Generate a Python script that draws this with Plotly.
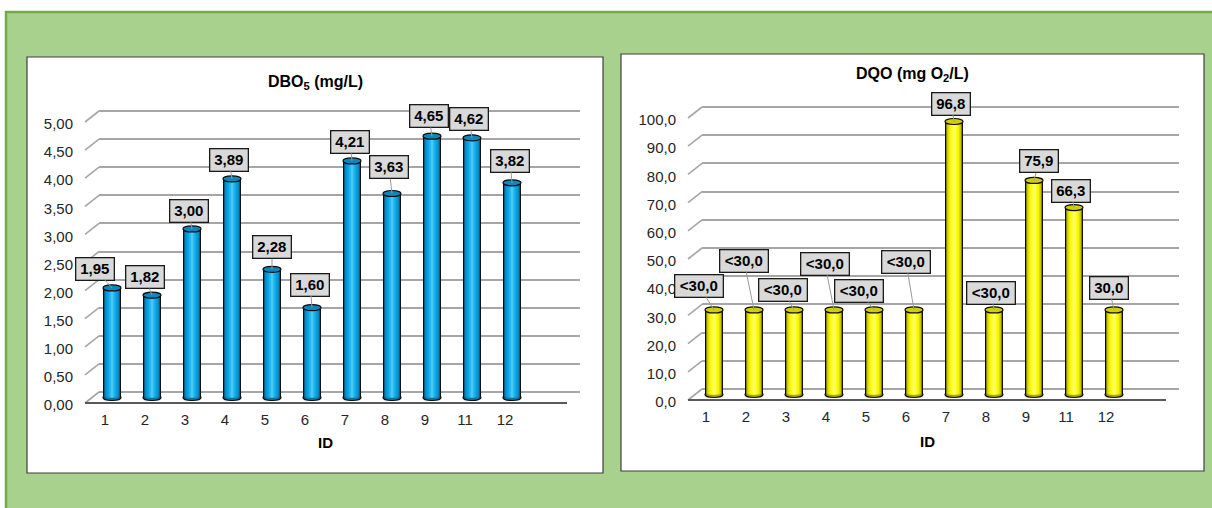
import plotly.graph_objects as go

W, H = 1212, 508

IDS = ["1", "2", "3", "4", "5", "6", "7", "8", "9", "11", "12"]

DBO5 = [1.95, 1.82, 3.00, 3.89, 2.28, 1.60, 4.21, 3.63, 4.65, 4.62, 3.82]
DBO5_TEXT = ["1,95", "1,82", "3,00", "3,89", "2,28", "1,60", "4,21", "3,63", "4,65", "4,62", "3,82"]
DBO5_TICKS = [0.0, 0.5, 1.0, 1.5, 2.0, 2.5, 3.0, 3.5, 4.0, 4.5, 5.0]

DQO = [30.0, 30.0, 30.0, 30.0, 30.0, 30.0, 96.8, 30.0, 75.9, 66.3, 30.0]
DQO_TEXT = ["<30,0", "<30,0", "<30,0", "<30,0", "<30,0", "<30,0", "96,8", "<30,0", "75,9", "66,3", "30,0"]
DQO_TICKS = [0, 10, 20, 30, 40, 50, 60, 70, 80, 90, 100]

# value boxes: pixel offset of each box centre from the top of its cylinder
DBO5_BOX_SHIFT = [(-17, -19), (-7, -18), (-3, -18), (-3, -19), (0, -22), (-2, -23),
                  (-2, -19), (-3, -26), (-3, -20), (-3, -19), (-2, -22)]
DQO_BOX_SHIFT = [(-15, -24), (-10, -49), (-11, -20), (-9, -46), (-15, -19), (-8, -48),
                 (-3, -18), (-3, -17), (5, -19), (-3, -17), (-5, -22)]

FONT = "Liberation Sans, Arial, sans-serif"
GRID = "#A6A6A6"
DEPTH_X, DEPTH_Y = 14, 11          # front-to-back offset of the 3-D floor (px)
BAR_W = 0.45                        # cylinder width, share of a category slot

# shading bands of the cylinders, outermost first
BLUE_BANDS = [(0.45, "#0D0D0D"), (0.39, "#0B74A8"), (0.34, "#0A8CC8"),
              (0.27, "#05A2E0"), (0.17, "#1AB2EE"), (0.07, "#4CC6F4")]
YELLOW_BANDS = [(0.45, "#0D0D0D"), (0.39, "#A6A600"), (0.34, "#D2D200"),
                (0.27, "#F0F000"), (0.17, "#FFFF10"), (0.07, "#FFFF70")]


def fx(px):
    return px / W


def fy(px):
    return 1 - px / H


PANELS = [
    dict(values=DBO5, text=DBO5_TEXT, ticks=DBO5_TICKS, shift=DBO5_BOX_SHIFT, fmt=".2f",
         title="DBO<sub>5</sub> (mg/L)", title_pos=(315, 83), id_pos=(325, 442),
         box=(27, 57, 603, 473), wall=(99, 580), wall_y=(111, 392), band=(92, 532),
         front_end=567, label_shift=-7, bands=BLUE_BANDS,
         cap="#0E86BE", base="#0B74A8"),
    dict(values=DQO, text=DQO_TEXT, ticks=DQO_TICKS, shift=DQO_BOX_SHIFT, fmt=".1f",
         title="DQO (mg O<sub>2</sub>/L)", title_pos=(912, 75), id_pos=(927, 441),
         box=(621, 54, 1204, 471), wall=(702, 1179), wall_y=(107, 389), band=(694, 1134),
         front_end=1166, label_shift=-8, bands=YELLOW_BANDS,
         cap="#D0D000", base="#A6A600"),
]

fig = go.Figure()
shapes = []
annotations = []
layout_axes = {}

# green backdrop
shapes.append(dict(type="rect", xref="paper", yref="paper", layer="below",
                   x0=fx(6), y0=fy(12), x1=fx(1230), y1=fy(530),
                   fillcolor="#A9D18E", line=dict(color="#70AD47", width=2.5)))

for k, p in enumerate(PANELS):
    bx, by = 2 * k + 1, 2 * k + 2
    xb = "x" if bx == 1 else f"x{bx}"
    yb = "y" if bx == 1 else f"y{bx}"
    xm, ym = f"x{by}", f"y{by}"

    vmax = p["ticks"][-1]
    top, bottom = p["wall_y"]
    s = (bottom - top) / vmax
    pad_top, pad_bot = 4, 16
    mid_pad = 6
    mid = DEPTH_Y / 2

    # chart area
    x0, y0, x1, y1 = p["box"]
    shapes.append(dict(type="rect", xref="paper", yref="paper", layer="below",
                       x0=fx(x0), y0=fy(y0), x1=fx(x1), y1=fy(y1),
                       fillcolor="white", line=dict(color="#3F3F3F", width=1.2)))

    # back wall: gridlines and value labels
    layout_axes["xaxis" if bx == 1 else f"xaxis{bx}"] = dict(
        domain=[fx(p["wall"][0]), fx(p["wall"][1])], range=[0, 1], anchor=yb,
        showticklabels=False, showgrid=False, zeroline=False, showline=False, ticks="",
        automargin=False)
    layout_axes["yaxis" if bx == 1 else f"yaxis{bx}"] = dict(
        domain=[fy(bottom + pad_bot), fy(top - pad_top)],
        range=[-pad_bot / s, vmax + pad_top / s], anchor=xb,
        tickmode="array", tickvals=p["ticks"], tickformat=p["fmt"],
        showgrid=True, gridcolor=GRID, gridwidth=1.6, zeroline=False, showline=False,
        ticks="", ticklabelshift=13, ticklabelstandoff=25, automargin=False,
        tickfont=dict(family=FONT, size=15, color="#262626"))

    # mid-depth plane carrying the cylinders
    layout_axes[f"xaxis{by}"] = dict(
        domain=[fx(p["band"][0]), fx(p["band"][1])], type="category",
        categoryorder="array", categoryarray=IDS, range=[-0.5, len(IDS) - 0.5],
        anchor=ym, showgrid=False, zeroline=False, showline=False, ticks="",
        ticklabelshift=p["label_shift"], ticklabelstandoff=5, automargin=False,
        tickfont=dict(family=FONT, size=15, color="#262626"))
    layout_axes[f"yaxis{by}"] = dict(
        domain=[fy(bottom + mid + mid_pad), fy(top + mid - mid_pad)],
        range=[-mid_pad / s, vmax + mid_pad / s], anchor=xm, visible=False,
        automargin=False)

    # receding edges from the front labels to the back wall
    for t in p["ticks"]:
        shapes.append(dict(type="line", xref=f"{xb} domain", yref=yb, layer="below",
                           xsizemode="pixel", xanchor=0, x0=-DEPTH_X, x1=0,
                           ysizemode="pixel", yanchor=t, y0=-DEPTH_Y, y1=0,
                           line=dict(color=GRID, width=1.6)))
    # front edge of the floor
    shapes.append(dict(type="line", xref="paper", yref="paper", layer="below",
                       x0=fx(p["wall"][0] - DEPTH_X), x1=fx(p["front_end"]),
                       y0=fy(bottom + DEPTH_Y), y1=fy(bottom + DEPTH_Y),
                       line=dict(color="#595959", width=2)))

    # cylinders
    for w, c in p["bands"]:
        fig.add_trace(go.Bar(x=IDS, y=p["values"], xaxis=xm, yaxis=ym, width=w,
                             marker=dict(color=c, line=dict(width=0)),
                             hoverinfo="skip", showlegend=False))
    hw = BAR_W / 2
    for i, v in enumerate(p["values"]):
        shapes.append(dict(type="circle", xref=xm, yref=ym, layer="below",
                           x0=i - hw, x1=i + hw, ysizemode="pixel", yanchor=0,
                           y0=-3, y1=3, fillcolor=p["base"],
                           line=dict(color="#0D0D0D", width=1.2)))
        shapes.append(dict(type="circle", xref=xm, yref=ym, layer="above",
                           x0=i - hw, x1=i + hw, ysizemode="pixel", yanchor=v,
                           y0=-3, y1=3, fillcolor=p["cap"],
                           line=dict(color="#0D0D0D", width=1.2)))

    # value boxes (x given as category position)
    for i, (v, txt) in enumerate(zip(p["values"], p["text"])):
        dx, dy = p["shift"][i]
        annotations.append(dict(
            xref=xm, yref=ym, x=i, y=v, ax=dx, ay=dy, text=txt,
            showarrow=True, arrowhead=0, arrowwidth=1, arrowcolor="#9A9A9A",
            bgcolor="#D9D9D9", bordercolor="#1A1A1A", borderwidth=1.3, borderpad=2,
            width=43 if txt.startswith("<") else 33, height=17,
            font=dict(family=FONT, size=15, color="black", weight="bold")))

    # titles
    annotations.append(dict(xref="paper", yref="paper", x=fx(p["title_pos"][0]),
                            y=fy(p["title_pos"][1]), xanchor="center", yanchor="middle",
                            text=p["title"], showarrow=False,
                            font=dict(family=FONT, size=16, color="black", weight="bold")))
    annotations.append(dict(xref="paper", yref="paper", x=fx(p["id_pos"][0]),
                            y=fy(p["id_pos"][1]), xanchor="center", yanchor="middle",
                            text="ID", showarrow=False,
                            font=dict(family=FONT, size=15, color="black", weight="bold")))

fig.update_layout(
    template="none",
    width=W, height=H, margin=dict(l=0, r=0, t=0, b=0, pad=0, autoexpand=False),
    paper_bgcolor="white", plot_bgcolor="rgba(0,0,0,0)",
    barmode="overlay", separators=",.", showlegend=False,
    font=dict(family=FONT), shapes=shapes, annotations=annotations,
    **layout_axes)

fig.write_html("out.html")
